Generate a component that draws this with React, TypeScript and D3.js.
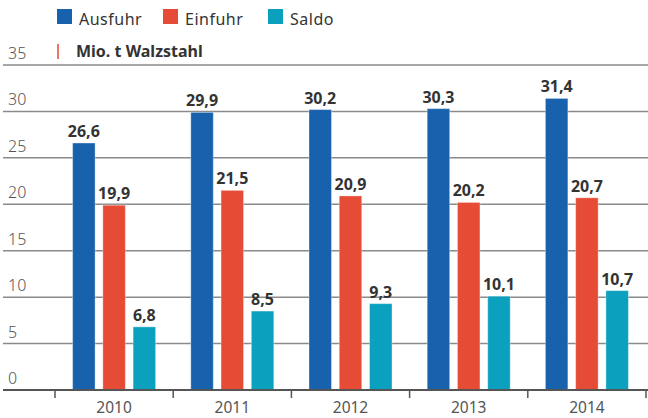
import React from "react";
import * as d3 from "d3";

const years = ["2010", "2011", "2012", "2013", "2014"];
const seriesNames = ["Ausfuhr", "Einfuhr", "Saldo"];
const ausfuhr = [26.6, 29.9, 30.2, 30.3, 31.4];
const einfuhr = [19.9, 21.5, 20.9, 20.2, 20.7];
const saldo = [6.8, 8.5, 9.3, 10.1, 10.7];
const yTicks = [0, 5, 10, 15, 20, 25, 30, 35];
const unitLabel = "Mio. t Walzstahl";

const colors = ["#1862ad", "#e54b35", "#0ba0be"];

export default function App() {
  const W = 648, H = 418;
  const y = d3.scaleLinear().domain([0, 35]).range([390, 65]);
  const x = d3.scaleBand().domain(years).range([55, 646]).paddingInner(0).paddingOuter(0);
  const groupW = 83;
  const inner = d3.scaleBand().domain(seriesNames).range([0, groupW]).paddingInner(0.257).paddingOuter(0);
  const data = [ausfuhr, einfuhr, saldo];
  const fmt = (v: number) => v.toFixed(1).replace(".", ",");
  const font = "'Noto Sans', 'Open Sans', sans-serif";
  const boundaries = [...years.map((yr) => x(yr)!), x.range()[1]];

  return (
    <svg width={W} height={H} style={{ position: "absolute", left: 0, top: 0 }} fontFamily={font}>
      <rect width={W} height={H} fill="#fff" />
      {seriesNames.map((s, i) => {
        const lx = [57, 163, 268][i];
        return (
          <g key={s}>
            <rect x={lx} y={9} width={15} height={15} fill={colors[i]} />
            <text x={lx + 22} y={25} fontSize={16} fill="#333" letterSpacing={0.5}>{s}</text>
          </g>
        );
      })}
      {yTicks.filter((t) => t > 0).map((t) => (
        <line key={t} x1={3} x2={W} y1={y(t)} y2={y(t)} stroke="#8a8a8a" strokeWidth={1.5} />
      ))}
      {yTicks.map((t) => (
        <text key={t} x={8} y={y(t) - 6} fontSize={16} fill="#555" fontWeight={300}>{t}</text>
      ))}
      <line x1={58} x2={58} y1={44} y2={59} stroke="#e54b35" strokeWidth={1.5} />
      <text x={76} y={57} fontSize={16} fontWeight={700} fill="#333">{unitLabel}</text>
      {years.map((yr, gi) => {
        const gx = x(yr)! + (x.bandwidth() - groupW) / 2;
        return (
          <g key={yr}>
            {data.map((arr, si) => {
              const v = arr[gi];
              const bx = gx + inner(seriesNames[si])!;
              const bw = inner.bandwidth();
              return (
                <g key={si}>
                  <rect x={bx} y={y(v)} width={bw} height={y(0) - y(v)} fill={colors[si]} stroke="#ffffff" strokeOpacity={0.35} strokeWidth={1} />
                  <text x={bx + bw / 2} y={y(v) - 6} textAnchor="middle" fontSize={16} fontWeight={700} fill="#333">{fmt(v)}</text>
                </g>
              );
            })}
          </g>
        );
      })}
      <line x1={3} x2={W} y1={y(0)} y2={y(0)} stroke="#555" strokeWidth={2} />
      {boundaries.map((bx, i) => (
        <line key={i} x1={bx} x2={bx} y1={y(0)} y2={y(0) + 8} stroke="#555" strokeWidth={1.5} />
      ))}
      {years.map((yr) => (
        <text key={yr} x={x(yr)! + x.bandwidth() / 2} y={413} textAnchor="middle" fontSize={15.5} fill="#555">{yr}</text>
      ))}
    </svg>
  );
}
